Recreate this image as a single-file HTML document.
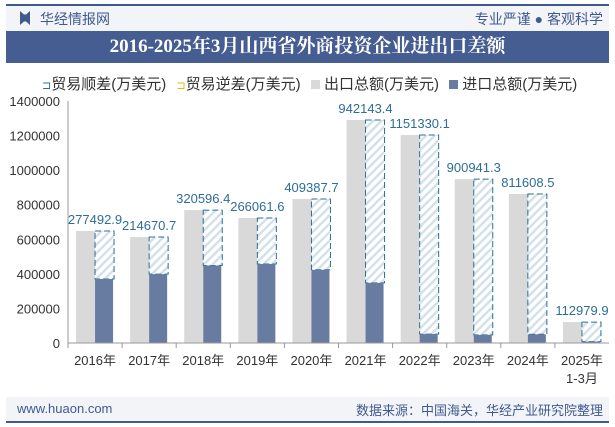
<!DOCTYPE html>
<html><head><meta charset="utf-8"><style>
body{margin:0;width:615px;height:427px;background:#fff;font-family:"Liberation Sans","Noto Sans CJK SC",sans-serif;position:relative;overflow:hidden}
.abs{position:absolute}
</style></head><body>
<div class="abs" style="left:6px;top:4px;width:603px;height:2px;background:#3f5a8f"></div>
<div class="abs" style="left:6px;top:6px;width:603px;height:25px;background:#f3f4f8"></div>
<div class="abs" style="left:20px;top:11px;width:10px;height:14px;background:#3f5a8f;clip-path:polygon(0 0,40% 25%,60% 25%,100% 0,100% 100%,60% 75%,40% 75%,0 100%)"></div>
<div class="abs" style="left:40px;top:9px;font-size:14px;color:#3f5a8f">华经情报网</div>
<div class="abs" style="right:12px;top:9px;font-size:14px;color:#3f5a8f">专业严谨 ● 客观科学</div>
<div class="abs" style="left:6px;top:31px;width:603px;height:32px;background:#455d91;color:#fff;font-size:19px;font-weight:bold;text-align:center;line-height:32px;font-family:'Liberation Serif','Noto Serif CJK SC',serif">2016-2025年3月山西省外商投资企业进出口差额</div>
<div class="abs" style="left:42px;top:73px;font-size:15px;color:#333;white-space:nowrap">
<span><span style="color:#2e6d96;font-size:11px">⊐</span>贸易顺差(万美元)</span>
<span style="margin-left:6px"><span style="color:#f0b400;font-size:11px">⊐</span>贸易逆差(万美元)</span>
<span style="margin-left:6px"><span style="display:inline-block;width:9px;height:9px;background:#d9d9d9"></span> 出口总额(万美元)</span>
<span style="margin-left:6px"><span style="display:inline-block;width:9px;height:9px;background:#687ba0"></span> 进口总额(万美元)</span>
</div>
<svg class="abs" style="left:0;top:0" width="615" height="427" id="chart">
<defs><pattern id="hatch" width="6" height="6" patternUnits="userSpaceOnUse" patternTransform="rotate(45)"><rect width="6" height="6" fill="#fff"/><rect width="2.5" height="6" fill="#d3e2ea"/></pattern></defs>
</svg>
<div class="abs" style="left:6px;top:397px;width:603px;height:24px;background:#f3f4f8"></div>
<div class="abs" style="left:17px;top:401px;font-size:13px;color:#3f5a8f">www.huaon.com</div>
<div class="abs" style="right:12px;top:400px;font-size:13px;color:#3f5a8f">数据来源：中国海关，华经产业研究院整理</div>
<div class="abs" style="left:6px;top:421px;width:603px;height:2px;background:#3f5a8f"></div>
<script>
const categories=["2016年","2017年","2018年","2019年","2020年","2021年","2022年","2023年","2024年","2025年"];
const exportValues=[648000,613000,769000,723000,833000,1290000,1203000,948000,862000,121000];
const surplusValues=[277492.9,214670.7,320596.4,266061.6,409387.7,942143.4,1151330.1,900941.3,811608.5,112979.9];
const yTicks=[0,200000,400000,600000,800000,1000000,1200000,1400000];
const svg=document.getElementById('chart');
const NS='http://www.w3.org/2000/svg';
const L=68,R=609,B=343,T=101,MAX=1400000;
const cw=(R-L)/categories.length;
const y=v=>B-(v/MAX)*(B-T);
const xc=i=>L+cw*(i+0.5);
function mk(tag,attrs){const e=document.createElementNS(NS,tag);for(const k in attrs)e.setAttribute(k,attrs[k]);svg.appendChild(e);return e;}
yTicks.forEach(t=>{const e=mk('text',{x:L-8,y:y(t)+5,'text-anchor':'end','font-size':13,fill:'#333'});e.textContent=t;

});
const ax=mk('line',{x1:L,y1:T,x2:L,y2:B,stroke:'#999'});


categories.forEach((c,i)=>{
 const cx=xc(i),ex=exportValues[i],im=ex-surplusValues[i];
 const eb=mk('rect',{x:cx-19,y:y(ex),width:19,height:B-y(ex),fill:'#d9d9d9'});
 
 
 const sb=mk('rect',{x:cx,y:y(ex),width:19,height:y(im)-y(ex),fill:'url(#hatch)',stroke:'#2e6d96','stroke-dasharray':'6,3'});
 
 
 const ib=mk('rect',{x:cx,y:y(im),width:18,height:B-y(im),fill:'#687ba0'});
 
 
 const lb=mk('text',{x:cx,y:y(ex)-7,'text-anchor':'middle','font-size':13,fill:'#2e6d96'});lb.textContent=surplusValues[i].toFixed(1);
 
 
 const tk=mk('line',{x1:L+cw*i,y1:B,x2:L+cw*i,y2:B+5,stroke:'#999'});
 
 
 const xl=mk('text',{x:cx,y:B+22,'text-anchor':'middle','font-size':13,fill:'#333'});xl.textContent=c;
 
 
});
const xl2=mk('text',{x:xc(9),y:B+40,'text-anchor':'middle','font-size':13,fill:'#333'});xl2.textContent='1-3月';


const xa=mk('line',{x1:L,y1:B,x2:R,y2:B,stroke:'#999'});


</script>
</body></html>
